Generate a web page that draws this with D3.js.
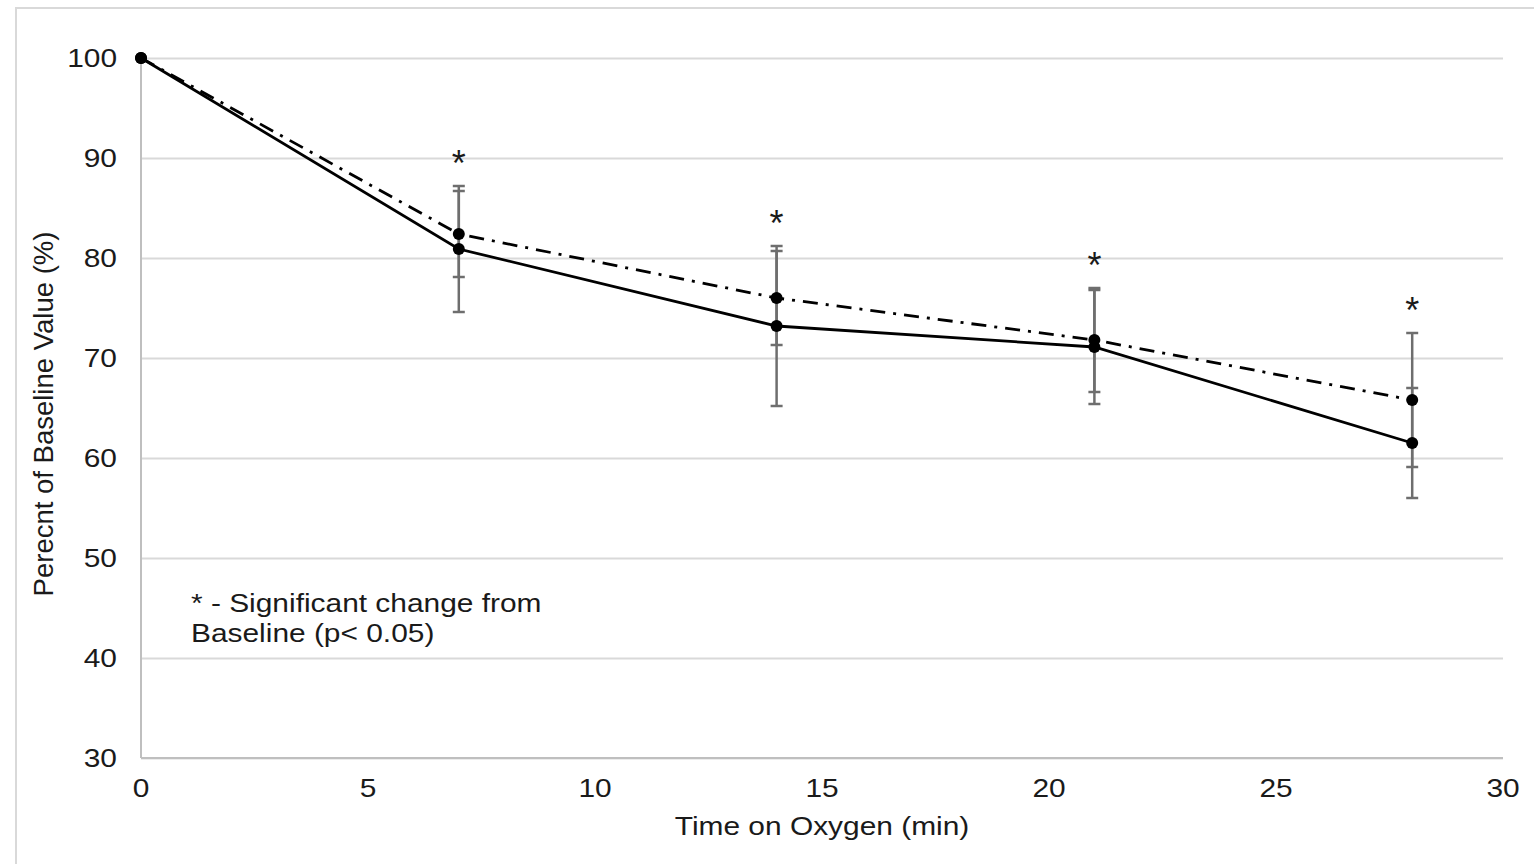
<!DOCTYPE html>
<html>
<head>
<meta charset="utf-8">
<script src="https://cdn.jsdelivr.net/npm/d3@7"></script>
<style>
  html, body { margin: 0; padding: 0; background: #fff; }
  svg { display: block; }
  text { font-family: "Liberation Sans", Arial, sans-serif; fill: #1a1a1a; }
</style>
</head>
<body>
<svg id="chart" width="1534" height="864"></svg>
<script>
// ---- data ----
const times = [0, 7, 14, 21, 28];
const solidValues = [100, 80.9, 73.2, 71.1, 61.5];
const solidErrors = [0, 6.3, 8.0, 5.7, 5.5];
const dashValues = [100, 82.4, 76.0, 71.8, 65.8];
const dashErrors = [0, 4.3, 4.7, 5.2, 6.7];
const significant = [false, true, true, true, true];
const xTicks = [0, 5, 10, 15, 20, 25, 30];
const yTicks = [30, 40, 50, 60, 70, 80, 90, 100];
const xTitle = "Time on Oxygen (min)";
const yTitle = "Perecnt of Baseline Value (%)";
const noteLines = ["* - Significant change from", "Baseline (p< 0.05)"];

// ---- layout ----
const svg = d3.select("#chart");
const pLeft = 141, pRight = 1503, pTop = 58, pBottom = 758;
const SX = 1.15; // horizontal stretch of text
const x = d3.scaleLinear().domain([0, 30]).range([pLeft, pRight]);
const y = d3.scaleLinear().domain([30, 100]).range([pBottom, pTop]);

// outer border
svg.append("rect").attr("x", 16).attr("y", 8).attr("width", 1530).attr("height", 900)
  .attr("fill", "none").attr("stroke", "#d9d9d9").attr("stroke-width", 2);

function stext(g, tx, ty, str, size, anchor) {
  return g.append("text")
    .attr("transform", `translate(${tx},${ty}) scale(${SX},1)`)
    .attr("text-anchor", anchor || "start")
    .attr("font-size", size)
    .text(str);
}

// gridlines
const yAxis = d3.axisLeft(y).tickValues(yTicks).tickSize(-(pRight - pLeft)).tickFormat("");
svg.append("g").attr("transform", `translate(${pLeft},0)`).call(yAxis)
  .call(g => g.select(".domain").remove())
  .call(g => g.selectAll(".tick line").attr("stroke", "#d9d9d9").attr("stroke-width", 2));

// axis lines
svg.append("line").attr("x1", pLeft).attr("x2", pLeft).attr("y1", pTop).attr("y2", pBottom)
  .attr("stroke", "#bfbfbf").attr("stroke-width", 2);
svg.append("line").attr("x1", pLeft).attr("x2", pRight).attr("y1", pBottom).attr("y2", pBottom)
  .attr("stroke", "#bfbfbf").attr("stroke-width", 2);

// tick labels
const tl = svg.append("g");
yTicks.forEach(v => stext(tl, 117, y(v) + 9, String(v), 26, "end"));
xTicks.forEach(v => stext(tl, x(v), pBottom + 39, String(v), 26, "middle"));

// titles
stext(svg, x(15), 835, xTitle, 26, "middle");
svg.append("text").attr("transform", `translate(53,${(pTop + pBottom) / 2 + 6}) rotate(-90)`)
  .attr("text-anchor", "middle").attr("font-size", 27.5).text(yTitle);

// note
noteLines.forEach((s, i) => stext(svg, 191, 612 + i * 30, s, 26, "start"));

// error bars
const errG = svg.append("g").attr("stroke", "#6e6e6e").attr("stroke-width", 2.5);
function drawErr(vals, errs) {
  times.forEach((t, i) => {
    if (!errs[i]) return;
    const cx = x(t), y1 = y(vals[i] - errs[i]), y2 = y(vals[i] + errs[i]);
    errG.append("line").attr("x1", cx).attr("x2", cx).attr("y1", y1).attr("y2", y2);
    [y1, y2].forEach(yy => errG.append("line").attr("x1", cx - 6).attr("x2", cx + 6).attr("y1", yy).attr("y2", yy));
  });
}
drawErr(solidValues, solidErrors);
drawErr(dashValues, dashErrors);

// lines
const line = d3.line().x((d, i) => x(times[i])).y(d => y(d));
svg.append("path").datum(dashValues).attr("d", line).attr("fill", "none")
  .attr("stroke", "#000").attr("stroke-width", 2.8).attr("stroke-dasharray", "15,8,3,8");
svg.append("path").datum(solidValues).attr("d", line).attr("fill", "none")
  .attr("stroke", "#000").attr("stroke-width", 2.8);

// markers
[solidValues, dashValues].forEach(vals => {
  svg.append("g").selectAll("circle").data(vals).join("circle")
    .attr("cx", (d, i) => x(times[i])).attr("cy", d => y(d)).attr("r", 6).attr("fill", "#000");
});

// significance stars
times.forEach((t, i) => {
  if (!significant[i]) return;
  const topV = Math.max(solidValues[i] + solidErrors[i], dashValues[i] + dashErrors[i]);
  stext(svg, x(t), y(topV) - 10, "*", 36, "middle").attr("transform",
    `translate(${x(t)},${y(topV) - 10}) scale(1,1)`);
});
</script>
</body>
</html>
